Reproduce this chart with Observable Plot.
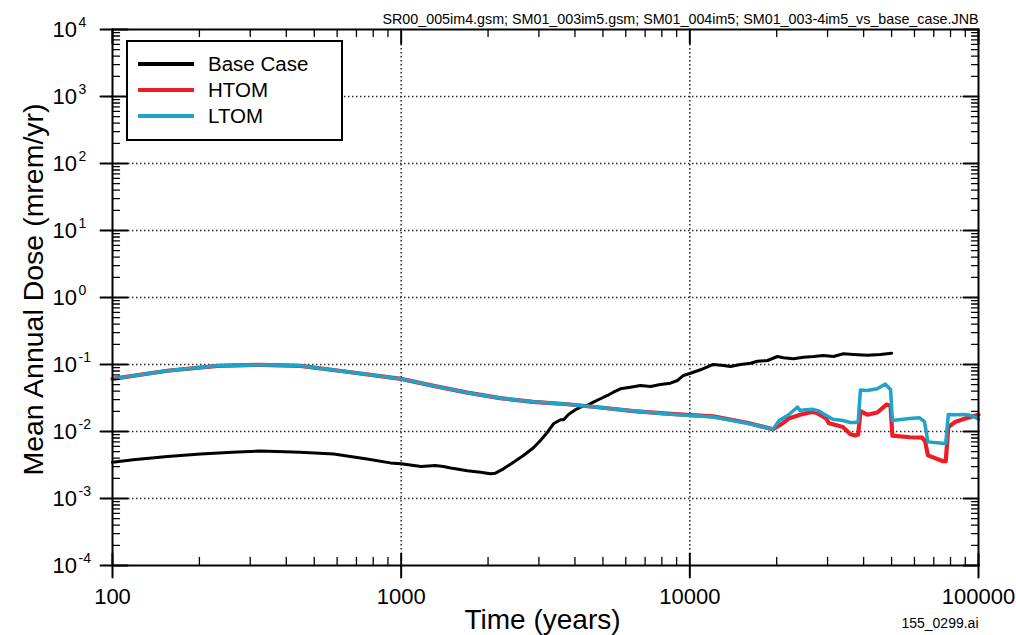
<!DOCTYPE html>
<html>
<head>
<meta charset="utf-8">
<script src="https://cdn.jsdelivr.net/npm/d3@7"></script>
<script src="https://cdn.jsdelivr.net/npm/@observablehq/plot@0.6"></script>
<style>
html, body { margin: 0; padding: 0; background: #fff; }
#wrap { position: relative; width: 1016px; height: 635px; overflow: hidden; font-family: "Liberation Sans", Arial, Helvetica, sans-serif; }
#wrap svg { display: block; }
#legend { position: absolute; left: 126px; top: 40px; width: 217px; height: 101px; box-sizing: border-box; border: 2px solid #000; background: #fff; }
.lrow { position: absolute; left: 0; height: 26px; line-height: 26px; font-size: 20.5px; color: #000; white-space: nowrap; }
.lsw { position: absolute; left: 10px; top: 11px; width: 56px; height: 4px; }
.ltx { position: absolute; left: 80px; top: 0; }
</style>
</head>
<body>
<div id="wrap"></div>
<script>
// ---- data ----
const seriesNames = ["Base Case", "HTOM", "LTOM"];
const seriesColors = ["#000000", "#ee1c25", "#1fa3c7"];

const baseTime = [100, 118, 155, 202, 260, 326, 447, 584, 762, 916, 1000, 1173, 1313, 1400, 1485, 1695, 1883, 2039, 2121, 2261, 2449, 2652, 2873, 3037, 3212, 3370, 3563, 3650, 3798, 4016, 4178, 4418, 4636, 4901, 5183, 5437, 5749, 6229, 6745, 7304, 7911, 8567, 9058, 9504, 10050, 10882, 11786, 12070, 13074, 13826, 14975, 16218, 17150, 18571, 20114, 21095, 22851, 24751, 26803, 29027, 31438, 34041, 36871, 41228, 45731, 50000];
const baseDose = [0.00348, 0.0038, 0.00424, 0.0046, 0.0049, 0.0051, 0.0049, 0.0046, 0.0039, 0.0034, 0.0033, 0.0030, 0.0031, 0.0030, 0.00285, 0.0026, 0.00247, 0.00234, 0.00239, 0.00277, 0.00348, 0.00438, 0.00571, 0.00734, 0.00977, 0.01305, 0.01496, 0.01496, 0.01795, 0.0211, 0.0231, 0.0245, 0.0274, 0.0308, 0.0345, 0.0386, 0.0434, 0.0458, 0.0486, 0.0470, 0.0503, 0.0526, 0.0577, 0.0686, 0.0741, 0.0834, 0.0966, 0.100, 0.0966, 0.0933, 0.100, 0.1045, 0.1119, 0.1148, 0.1316, 0.1259, 0.1216, 0.1285, 0.1316, 0.1362, 0.1316, 0.1445, 0.141, 0.1377, 0.141, 0.1475];

const htomTime = [100, 155, 231, 326, 447, 669, 1000, 1295, 1695, 2200, 2860, 3765, 4894, 6380, 8360, 10100, 12050, 15800, 19400, 21000, 22000, 24100, 26500, 27500, 29700, 30300, 31300, 33900, 36000, 37400, 38300, 39000, 41200, 44600, 48000, 49600, 50300, 57700, 63800, 65300, 66800, 75400, 77000, 78600, 83300, 90000, 100000];
const htomDose = [0.061, 0.0806, 0.0955, 0.099, 0.0955, 0.0767, 0.061, 0.048, 0.038, 0.0315, 0.0277, 0.0255, 0.0228, 0.0202, 0.0185, 0.0176, 0.0168, 0.0135, 0.0108, 0.0133, 0.0156, 0.0178, 0.0196, 0.0190, 0.0156, 0.0133, 0.0128, 0.0117, 0.0091, 0.0087, 0.0090, 0.0202, 0.0178, 0.0192, 0.0252, 0.0240, 0.0087, 0.0082, 0.0081, 0.0072, 0.0044, 0.0036, 0.0036, 0.0117, 0.0140, 0.0156, 0.0178];

const ltomTime = [100, 155, 231, 326, 447, 669, 1000, 1295, 1695, 2200, 2860, 3765, 4894, 6380, 8360, 10100, 12050, 15800, 19400, 20400, 22000, 23600, 24100, 24700, 26500, 28000, 29700, 31300, 33900, 35900, 37400, 38300, 39000, 41200, 44600, 47600, 49600, 50300, 57700, 62500, 65000, 66800, 74600, 77000, 78600, 83300, 90000, 95000, 100000];
const ltomDose = [0.061, 0.0806, 0.0955, 0.099, 0.0955, 0.0767, 0.061, 0.048, 0.038, 0.0315, 0.0277, 0.0255, 0.0228, 0.0202, 0.0183, 0.0173, 0.0165, 0.0133, 0.0108, 0.0146, 0.0178, 0.0232, 0.0205, 0.0210, 0.0215, 0.0202, 0.0173, 0.0152, 0.0146, 0.0136, 0.0136, 0.0140, 0.0415, 0.0410, 0.0434, 0.0510, 0.0420, 0.0146, 0.0156, 0.0160, 0.0140, 0.0070, 0.0067, 0.0067, 0.0180, 0.0178, 0.0179, 0.0172, 0.0152];

const xTickValues = [100, 1000, 10000, 100000];
const xTickLabels = ["100", "1000", "10000", "100000"];
const yExponents = [-4, -3, -2, -1, 0, 1, 2, 3, 4];
const xTitle = "Time (years)";
const yTitle = "Mean Annual Dose (mrem/yr)";
const headerText = "SR00_005im4.gsm; SM01_003im5.gsm; SM01_004im5; SM01_003-4im5_vs_base_case.JNB";
const footerText = "155_0299.ai";

// ---- derived tables ----
const toRows = (ts, vs, name) => ts.map((t, i) => ({t, v: vs[i], name}));
const baseRows = toRows(baseTime, baseDose, seriesNames[0]);
const htomRows = toRows(htomTime, htomDose, seriesNames[1]);
const ltomRows = toRows(ltomTime, ltomDose, seriesNames[2]);

const yTickValues = yExponents.map(e => Math.pow(10, e));
const xMinor = [];
for (let e = 2; e < 5; e++) for (let m = 2; m < 10; m++) xMinor.push(m * Math.pow(10, e));
const yMinor = [];
for (let e = -4; e < 4; e++) for (let m = 2; m < 10; m++) yMinor.push(m * Math.pow(10, e));

const tickShape = {draw(ctx, l) { ctx.moveTo(0, 0); ctx.lineTo(0, -l); }};
const gridStyle = {stroke: "#2a2a2a", strokeOpacity: 1, strokeWidth: 1.5, strokeDasharray: "1.5,2.5"};
const font = "Liberation Sans, Arial, Helvetica, sans-serif";

const vt = (data, chan, anchor, rotate, length, sw) => Plot.vector(data, {
  [chan]: d => d, frameAnchor: anchor, rotate, length, anchor: "start",
  shape: tickShape, stroke: "#000", strokeWidth: sw
});

const chart = Plot.plot({
  width: 1016,
  height: 635,
  marginLeft: 112,
  marginRight: 38,
  marginTop: 29,
  marginBottom: 70,
  style: {fontFamily: font, background: "#fff", overflow: "visible"},
  x: {type: "log", domain: [100, 100000], axis: null},
  y: {type: "log", domain: [1e-4, 1e4], axis: null},
  marks: [
    Plot.gridY(yTickValues.slice(1, -1), {...gridStyle, insetLeft: 16, insetRight: 16}),
    Plot.gridX(xTickValues.slice(1, -1), {...gridStyle, insetTop: 15, insetBottom: 13}),
    Plot.line(baseRows, {x: "t", y: "v", stroke: seriesColors[0], strokeWidth: 3}),
    Plot.line(htomRows, {x: "t", y: "v", stroke: seriesColors[1], strokeWidth: 4.2}),
    Plot.line(ltomRows, {x: "t", y: "v", stroke: seriesColors[2], strokeWidth: 3.5}),
    Plot.frame({stroke: "#000", strokeWidth: 2}),
    // minor ticks (inward)
    vt(xMinor, "x", "bottom", 0, 8, 1.3),
    vt(xMinor, "x", "top", 180, 7, 1.3),
    vt(yMinor, "y", "left", 90, 7, 1.3),
    vt(yMinor, "y", "right", -90, 7, 1.3),
    // major ticks
    vt(xTickValues, "x", "bottom", 180, 12, 2),
    vt(xTickValues, "x", "bottom", 0, 12, 2),
    vt(xTickValues, "x", "top", 180, 14, 2),
    vt(yTickValues, "y", "left", -90, 12, 2),
    vt(yTickValues, "y", "left", 90, 15, 2),
    vt(yTickValues, "y", "right", -90, 15, 2),
    // tick labels
    Plot.text(xTickValues, {x: d => d, frameAnchor: "bottom", text: (d, i) => xTickLabels[i], dy: 38, lineAnchor: "bottom", fontSize: 22, fill: "#000"}),
    Plot.text(yTickValues, {y: d => d, frameAnchor: "left", text: () => "10", textAnchor: "start", dx: -60, dy: 7, lineAnchor: "bottom", fontSize: 22, fill: "#000"}),
    Plot.text(yExponents, {y: e => Math.pow(10, e), frameAnchor: "left", text: e => (e < 0 ? "-" : "") + Math.abs(e), textAnchor: "start", dx: -34, dy: -3, lineAnchor: "bottom", fontSize: 14, fill: "#000"}),
    // titles and notes
    Plot.text([xTitle], {frameAnchor: "bottom", text: d => d, textAnchor: "middle", dy: 63, dx: -3, lineAnchor: "bottom", fontSize: 28, fill: "#000"}),
    Plot.text([yTitle], {frameAnchor: "left", text: d => d, textAnchor: "middle", rotate: -90, dx: -70, dy: -8, lineAnchor: "bottom", fontSize: 28.5, fill: "#000"}),
    Plot.text([headerText], {frameAnchor: "top-right", text: d => d, textAnchor: "end", dy: -6, lineAnchor: "bottom", fontSize: 14.3, fill: "#000"}),
    Plot.text([footerText], {frameAnchor: "bottom-right", text: d => d, textAnchor: "end", dy: 62, lineAnchor: "bottom", fontSize: 14, fill: "#000"})
  ]
});

const wrap = document.getElementById("wrap");
wrap.appendChild(chart);

// legend overlay
const legend = document.createElement("div");
legend.id = "legend";
seriesNames.forEach((name, i) => {
  const row = document.createElement("div");
  row.className = "lrow";
  row.style.top = (9 + i * 26) + "px";
  const sw = document.createElement("div");
  sw.className = "lsw";
  sw.style.background = seriesColors[i];
  const tx = document.createElement("span");
  tx.className = "ltx";
  tx.textContent = name;
  row.appendChild(sw);
  row.appendChild(tx);
  legend.appendChild(row);
});
wrap.appendChild(legend);
</script>
</body>
</html>
